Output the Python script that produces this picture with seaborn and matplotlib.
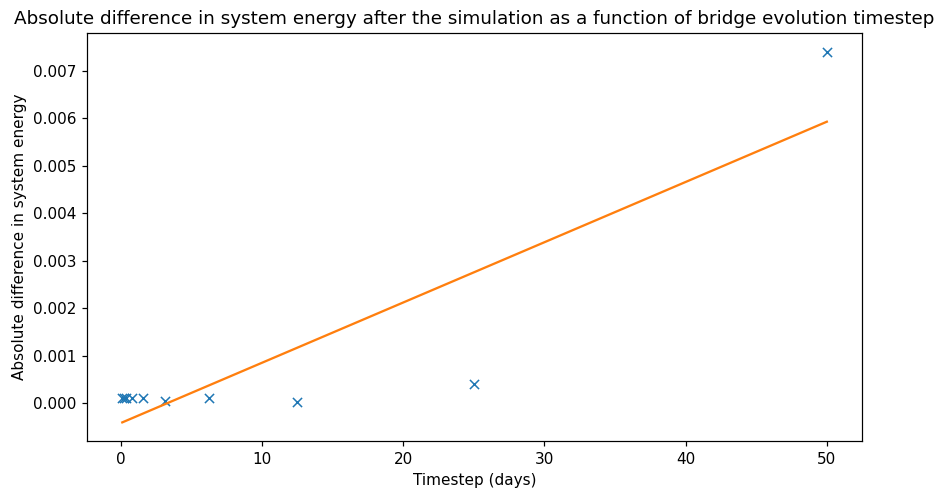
import numpy as np
import matplotlib
matplotlib.use('Agg')
import matplotlib.pyplot as plt
import seaborn as sns

# timesteps (days) and absolute energy difference
timesteps = [50, 25, 12.5, 6.25, 3.125, 1.5625, 0.78125, 0.390625, 0.1953125, 0.09765625]
energy_diff = [0.00740, 0.00040, 0.00003, 0.00010, 0.00004, 0.00010, 0.00011, 0.00011, 0.00011, 0.00011]

# linear fit through the points
slope, intercept = np.polyfit(timesteps, energy_diff, 1)
fit_x = np.array([min(timesteps), max(timesteps)])
fit_y = slope * fit_x + intercept

fig, ax = plt.subplots(figsize=(936 / 110, 491 / 110), dpi=110)
sns.scatterplot(x=timesteps, y=energy_diff, marker='x', color='C0', s=36, linewidth=1.0, ax=ax)
sns.lineplot(x=fit_x, y=fit_y, color='C1', linewidth=1.5, ax=ax)

ax.set_title('Absolute difference in system energy after the simulation as a function of bridge evolution timestep')
ax.set_xlabel('Timestep (days)')
ax.set_ylabel('Absolute difference in system energy')

plt.subplots_adjust(left=0.093, right=0.921, top=0.932, bottom=0.102)
plt.savefig('out.png', dpi=110)
